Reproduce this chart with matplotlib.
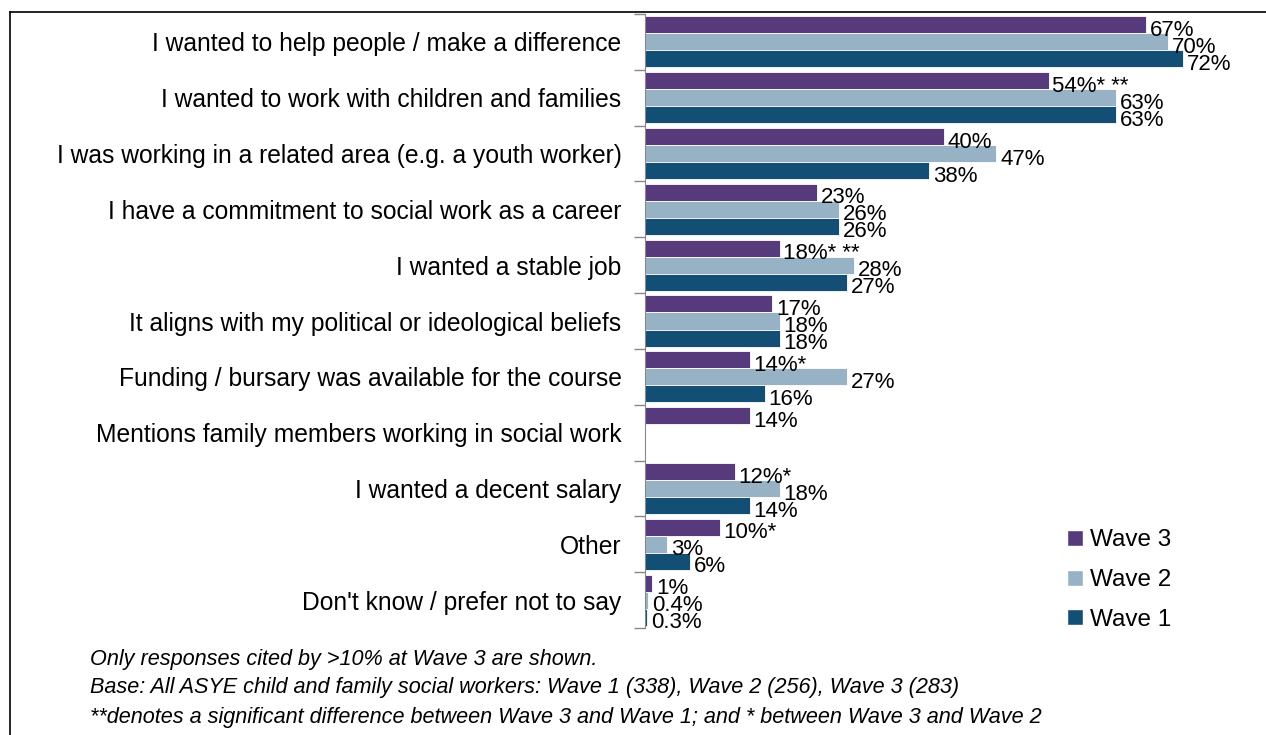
import numpy as np
import matplotlib
matplotlib.use("Agg")
import matplotlib.pyplot as plt
from matplotlib.lines import Line2D

categories = [
    "I wanted to help people / make a difference",
    "I wanted to work with children and families",
    "I was working in a related area (e.g. a youth worker)",
    "I have a commitment to social work as a career",
    "I wanted a stable job",
    "It aligns with my political or ideological beliefs",
    "Funding / bursary was available for the course",
    "Mentions family members working in social work",
    "I wanted a decent salary",
    "Other",
    "Don't know / prefer not to say",
]
wave3 = [67, 54, 40, 23, 18, 17, 14, 14, 12, 10, 1]
wave2 = [70, 63, 47, 26, 28, 18, 27, None, 18, 3, 0.4]
wave1 = [72, 63, 38, 26, 27, 18, 16, None, 14, 6, 0.3]
wave3_labels = ["67%", "54%* **", "40%", "23%", "18%* **", "17%", "14%*", "14%", "12%*", "10%*", "1%"]
wave2_labels = ["70%", "63%", "47%", "26%", "28%", "18%", "27%", "", "18%", "3%", "0.4%"]
wave1_labels = ["72%", "63%", "38%", "26%", "27%", "18%", "16%", "", "14%", "6%", "0.3%"]
footnotes = [
    "Only responses cited by >10% at Wave 3 are shown.",
    "Base: All ASYE child and family social workers: Wave 1 (338), Wave 2 (256), Wave 3 (283)",
    "**denotes a significant difference between Wave 3 and Wave 1; and * between Wave 3 and Wave 2",
]

c3, c2, c1 = "#563a7c", "#97b2c5", "#134f75"

plt.rcParams['font.family'] = ['Liberation Sans', 'DejaVu Sans']

fig = plt.figure(figsize=(12.66, 7.35), dpi=100)
ax = fig.add_axes([645/1266, 1-628/735, (1243-645)/1266, (628-14)/735])

n = len(categories)
y = np.arange(n)
h = 0.305
series = [(wave3, wave3_labels, c3, -h, "Wave 3"),
          (wave2, wave2_labels, c2, 0, "Wave 2"),
          (wave1, wave1_labels, c1, h, "Wave 1")]
for vals, labs, col, off, name in series:
    for i, (v, lab) in enumerate(zip(vals, labs)):
        if v is None:
            continue
        ax.barh(y[i] + off, v, height=h, color=col, edgecolor="white", linewidth=0.6)
        ax.text(v + 0.5, y[i] + off + 0.1, lab, va="center", ha="left", fontsize=16, color="black")

ax.set_xlim(0, 80)
ax.set_ylim(n - 0.5, -0.5)
ax.set_xticks([])
ax.set_yticks(y)
ax.set_yticklabels(categories, fontsize=17.7)
ax.tick_params(axis="y", which="major", length=0, pad=17)
ax.set_yticks(np.arange(n + 1) - 0.5, minor=True)
ax.tick_params(axis="y", which="minor", length=8, color="#888888", width=1)
for s in ["top", "right", "bottom"]:
    ax.spines[s].set_visible(False)
ax.spines["left"].set_color("#888888")

handles = [Line2D([], [], marker="s", linestyle="none", markersize=12, color=c, markeredgecolor="white")
           for c in (c3, c2, c1)]
fig.legend(handles, ["Wave 3", "Wave 2", "Wave 1"], loc="center left",
           bbox_to_anchor=(1041/1266, 1-580/735), frameon=False, fontsize=17.5,
           handletextpad=0.1, labelspacing=0.72, handlelength=1.0)

for k, t in enumerate(footnotes):
    fig.text(90/1266, 1-(659 + k*29)/735, t, fontsize=15.6, style="italic", va="center", ha="left")

# border lines of the frame
fig.add_artist(Line2D([10/1266, 10/1266], [0, 1-12/735], color="black", lw=1.2, transform=fig.transFigure))
fig.add_artist(Line2D([10/1266, 1], [1-12/735, 1-12/735], color="black", lw=1.2, transform=fig.transFigure))

fig.savefig("out.png", dpi=100)
